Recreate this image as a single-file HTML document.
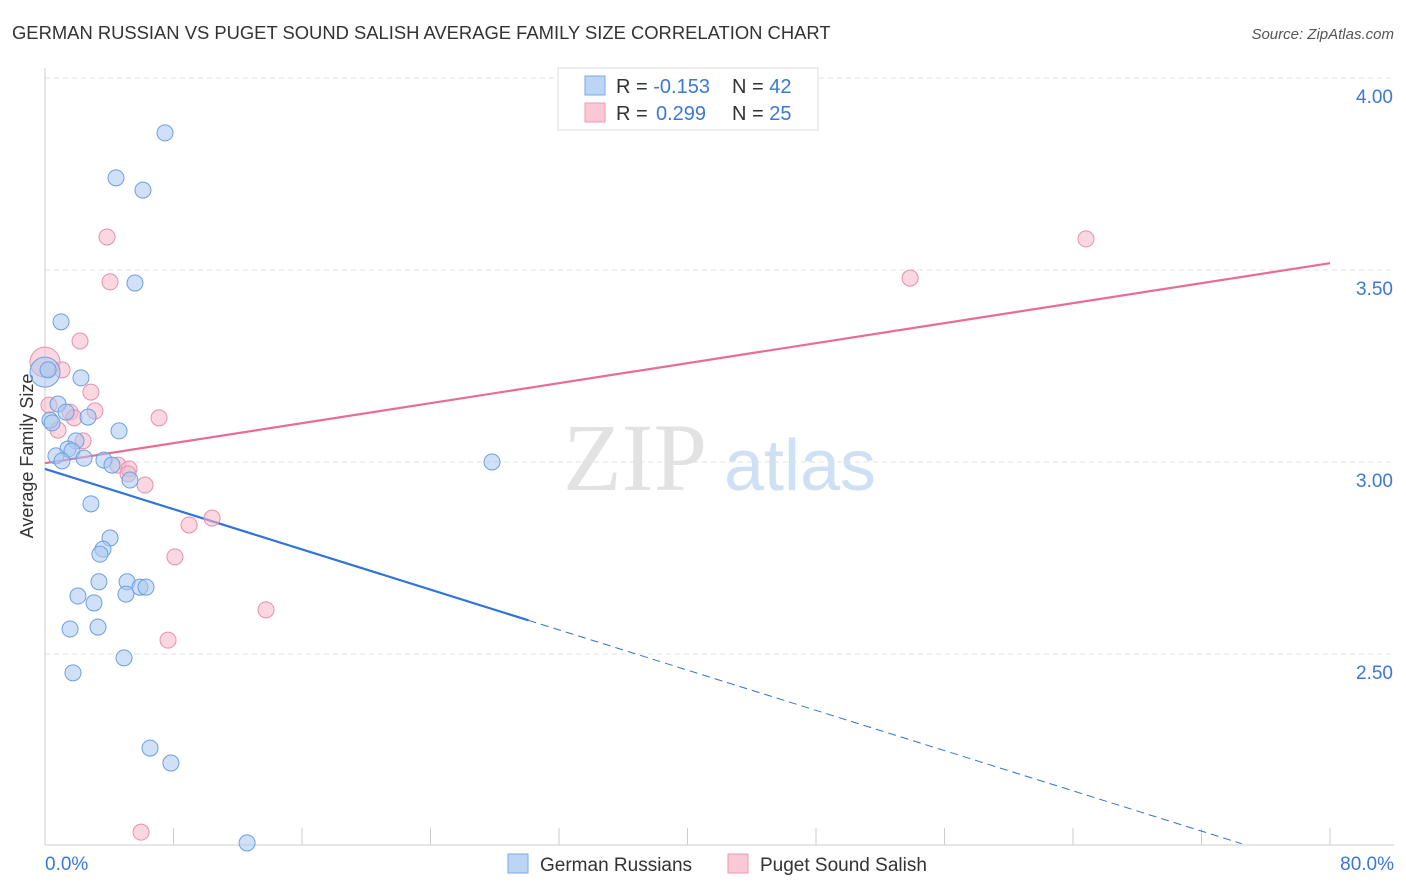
<!DOCTYPE html>
<html><head><meta charset="utf-8"><style>
body{margin:0;background:#fff;font-family:"Liberation Sans",sans-serif;}
svg{display:block}
</style></head><body>
<svg id="chart" width="1406" height="892">
<text x="12" y="39" font-size="18.4" fill="#333">GERMAN RUSSIAN VS PUGET SOUND SALISH AVERAGE FAMILY SIZE CORRELATION CHART</text>
<text x="1394" y="39" font-size="15" fill="#555" font-style="italic" text-anchor="end">Source: ZipAtlas.com</text>
<text x="33" y="456" font-size="18" fill="#333" transform="rotate(-90 33 456)" text-anchor="middle">Average Family Size</text>
<g><text x="635" y="490" font-size="96" fill="#e2e2e2" font-family="Liberation Serif,serif" text-anchor="middle">ZIP</text><text x="800" y="490" font-size="72" fill="#d0e0f4" text-anchor="middle">atlas</text></g>
<g id="grid"></g><g id="axes"></g><g id="trend"></g><g id="pts"></g>
<g>
<rect x="558" y="68" width="260" height="62" fill="#fff" stroke="#ddd"/>
<rect x="585" y="76" width="20" height="19" fill="#bcd5f5" stroke="#7aa9e6"/>
<rect x="585" y="103" width="20" height="19" fill="#fbc8d6" stroke="#ee9ab2"/>
<text x="616" y="93" font-size="20" fill="#333">R = <tspan fill="#3b78d6">-0.153</tspan><tspan x="732">N = </tspan><tspan fill="#3b78d6">42</tspan></text>
<text x="616" y="120" font-size="20" fill="#333">R = <tspan fill="#3b78d6" x="656">0.299</tspan><tspan x="732">N = </tspan><tspan fill="#3b78d6">25</tspan></text>
</g>
<g>
<rect x="508" y="854" width="20" height="19" fill="#bcd5f5" stroke="#7aa9e6"/>
<text x="540" y="871" font-size="19" fill="#333">German Russians</text>
<rect x="728" y="854" width="20" height="19" fill="#fbc8d6" stroke="#ee9ab2"/>
<text x="760" y="871" font-size="19" fill="#333">Puget Sound Salish</text>
</g>
</svg>
<script>
const blueX=[7.47,4.42,6.10,5.60,1.00,2.24,0,0.81,0.31,1.31,2.68,4.61,1.93,1.43,1.68,0.68,1.06,2.43,3.67,4.17,5.29,27.83,2.86,4.05,3.61,3.42,3.36,5.11,5.91,6.29,5.04,2.05,3.05,3.30,1.56,4.92,1.74,6.54,7.84,12.58,0.44,0.19];
const blueY=[3.857,3.740,3.708,3.466,3.365,3.219,3.234,3.151,3.109,3.130,3.117,3.081,3.055,3.034,3.029,3.016,3.003,3.010,3.005,2.992,2.953,3.000,2.891,2.802,2.773,2.760,2.688,2.688,2.674,2.674,2.656,2.651,2.633,2.570,2.565,2.490,2.451,2.255,2.216,2.008,3.102,3.240];
const pinkX=[3.86,4.05,2.18,0,1.06,2.86,3.11,1.56,1.81,7.10,0.81,2.37,4.54,5.23,5.17,6.23,8.97,10.40,8.09,13.76,7.66,5.98,53.86,64.81,0.25];
const pinkY=[3.586,3.469,3.315,3.260,3.240,3.182,3.133,3.130,3.115,3.115,3.083,3.055,2.992,2.982,2.969,2.940,2.836,2.854,2.753,2.615,2.536,2.036,3.479,3.581,3.148];
const yTicks=[2.5,3.0,3.5,4.0];
const xTickVals=[0,8,16,24,32,40,48,56,64,72,80];
const blueTrend=[2.982,-0.0131];
const pinkTrend=[2.997,0.00651];
const NS='http://www.w3.org/2000/svg';
const X=v=>45+v/80*1285, Y=v=>462-(v-3)*384;
function mk(p,t,a){const e=document.createElementNS(NS,t);for(const k in a)e.setAttribute(k,a[k]);p.appendChild(e);return e;}
const grid=document.getElementById('grid'),axes=document.getElementById('axes');
yTicks.forEach(v=>{
 const l=mk(grid,'line',{x1:45,x2:1394,y1:Y(v),y2:Y(v),stroke:'#e2e2e2','stroke-dasharray':'5,4'});
 
 
 const t=mk(axes,'text',{x:1393,y:Y(v)+25,'font-size':19,fill:'#3b78d6','text-anchor':'end'});t.textContent=v.toFixed(2);
 
 
});
const xl=mk(axes,'line',{x1:45,x2:1394,y1:845,y2:845,stroke:'#ccc'});


const yl=mk(axes,'line',{x1:45,x2:45,y1:68,y2:845,stroke:'#ccc'});


xTickVals.forEach(v=>{const t=mk(axes,'line',{x1:X(v),x2:X(v),y1:828,y2:845,stroke:'#ccc'});
 
 });
[[0,'0.0%','start',45],[80,'80.0%','end',1394]].forEach(a=>{const t=mk(axes,'text',{x:a[3],y:870,'font-size':19,fill:'#3b78d6','text-anchor':a[2]});t.textContent=a[1];
 
 });
const tr=document.getElementById('trend');
const ln=(x1,x2,c,tt,d)=>{const e=mk(tr,'line',{x1:X(x1),x2:X(x2),y1:Y(c[0]+c[1]*x1),y2:Y(c[0]+c[1]*x2),stroke:tt,'stroke-width':d?1:2.2});if(d)e.setAttribute('stroke-dasharray','8,5');return e;};
const b1=ln(0,30.1,blueTrend,'#2f74d6',false);


const b2=ln(30.1,74.5,blueTrend,'#2f74d6',true);


const p1=ln(0,80,pinkTrend,'#e86c96',false);


const pts=document.getElementById('pts');
function draw(xs,ys,f,s,name){xs.forEach((x,i)=>{const big=x<0.1;
 const c=mk(pts,'circle',{cx:X(x),cy:Y(ys[i]),r:big?15:8,fill:f,'fill-opacity':0.55,stroke:s,'stroke-width':1});
 
 });}
draw(pinkX,pinkY,'#f7b6c9','#e98fab','puget-sound-salish-point');
draw(blueX,blueY,'#a9c8f0','#6b9fe2','german-russians-point');
</script>
</body></html>
